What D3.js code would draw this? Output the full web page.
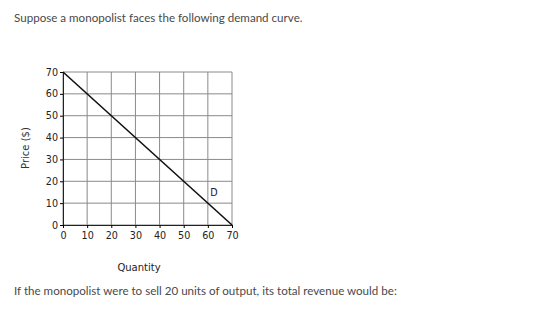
<html>
<head>
<script src="https://d3js.org/d3.v7.min.js"></script>
<style>
body { margin:0; background:#fff; }
.q { font-family: Lato, "Open Sans", sans-serif; font-size:11.6px; fill:#4a4a4a; }
.ax text { font-family: "DejaVu Sans", sans-serif; font-size:9.6px; fill:#222; }
</style>
</head>
<body>
<svg width="560" height="315"></svg>
<script>
// demand curve values
var quantity = [0, 70]
var price = [70, 0]
var ticks = [0, 10, 20, 30, 40, 50, 60, 70]

var svg = d3.select("svg")

var x = d3.scaleLinear().domain([0,70]).range([63,232])
var y = d3.scaleLinear().domain([0,70]).range([225,72])

svg.append("text").attr("class","q").attr("x",14).attr("y",22)
  .text("Suppose a monopolist faces the following demand curve.")

// grid
var g = svg.append("g")
g.selectAll("line.v").data(ticks).enter().append("line")
  .attr("x1", function(d){ return x(d) }).attr("x2", function(d){ return x(d) })
  .attr("y1", y(0)).attr("y2", y(70))
  .style("stroke","#8a8a8a").style("stroke-width",1)
g.selectAll("line.h").data(ticks).enter().append("line")
  .attr("y1", function(d){ return y(d) }).attr("y2", function(d){ return y(d) })
  .attr("x1", x(0)).attr("x2", x(70))
  .style("stroke","#8a8a8a").style("stroke-width",1)

// axes
svg.append("g").attr("class","ax")
  .attr("transform","translate("+x(0)+",0)")
  .call(d3.axisLeft(y).tickValues(ticks).tickSize(3).tickPadding(2))
  .call(function(a){ a.select(".domain").style("stroke","#222") })
svg.append("g").attr("class","ax")
  .attr("transform","translate(0,"+y(0)+")")
  .call(d3.axisBottom(x).tickValues(ticks).tickSize(3).tickPadding(4))
  .call(function(a){ a.select(".domain").style("stroke","#222") })

// demand line
var pts = quantity.map(function(q,i){ return [q, price[i]] })
svg.append("path").datum(pts)
  .attr("d", d3.line().x(function(d){ return x(d[0]) }).y(function(d){ return y(d[1]) }))
  .style("fill","none").style("stroke","#111").style("stroke-width",1.6)

svg.append("text").attr("x", x(61)).attr("y", y(13.2))
  .style("font-family","DejaVu Sans, sans-serif").style("font-size","9.6px").style("fill","#222")
  .text("D")

svg.append("text")
  .attr("transform","translate(29,148) rotate(-90)")
  .style("text-anchor","middle")
  .style("font-family","DejaVu Sans, sans-serif").style("font-size","10px").style("fill","#333")
  .text("Price ($)")

svg.append("text").attr("x",139).attr("y",271)
  .style("text-anchor","middle")
  .style("font-family","DejaVu Sans, sans-serif").style("font-size","10px").style("fill","#222")
  .text("Quantity")

svg.append("text").attr("class","q").attr("x",14).attr("y",295)
  .text("If the monopolist were to sell 20 units of output, its total revenue would be:")
</script>
</body>
</html>
